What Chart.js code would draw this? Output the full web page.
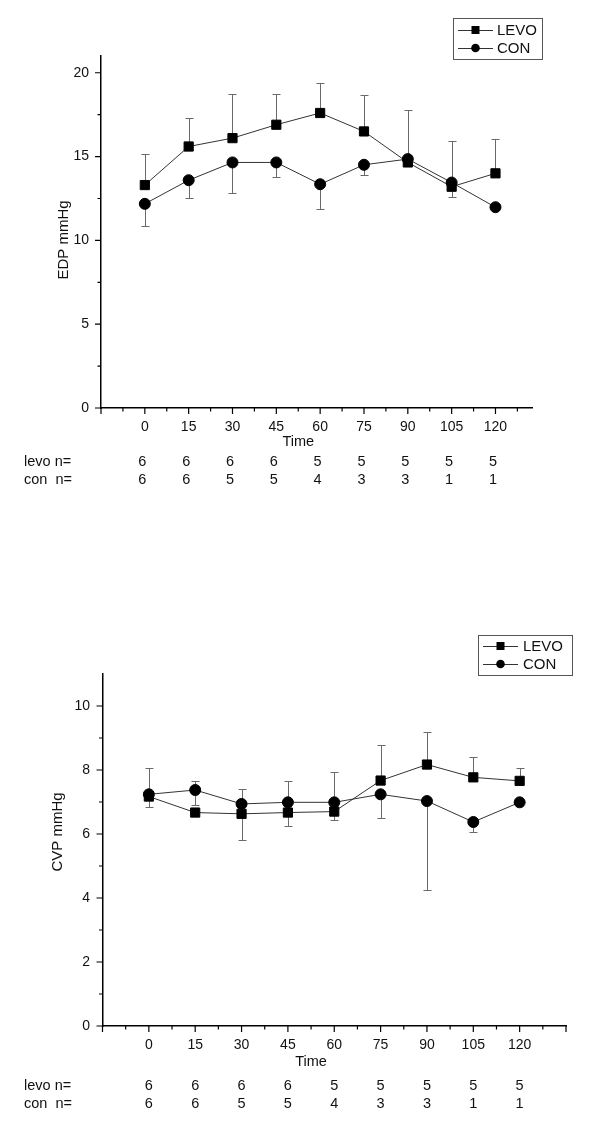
<!DOCTYPE html>
<html>
<head>
<meta charset="utf-8">
<script src="https://cdn.jsdelivr.net/npm/chart.js@4/dist/chart.umd.min.js"></script>
<style>
  body { margin: 0; background: #fff; }
  canvas.panel { position: absolute; left: 0; }
</style>
</head>
<body>
<canvas id="edp-chart" class="panel" style="top:0" width="600" height="573"></canvas>
<canvas id="cvp-chart" class="panel" style="top:573px" width="600" height="574"></canvas>
<script>
// time points (min) and group sizes
const times = [0, 15, 30, 45, 60, 75, 90, 105, 120];
const levoN = [6, 6, 6, 6, 5, 5, 5, 5, 5];
const conN = [6, 6, 5, 5, 4, 3, 3, 1, 1];

// EDP panel: means and visible error bar ends
const edpLevo = [13.3, 15.6, 16.1, 16.9, 17.6, 16.5, 14.65, 13.2, 14.0];
const edpLevoHi = [15.15, 17.33, 18.73, 18.73, 19.38, 18.69, 17.78, 15.9, 16.04];
const edpLevoLo = [null, null, null, null, null, null, null, null, null];
const edpCon = [12.18, 13.59, 14.65, 14.65, 13.35, 14.51, 14.85, 13.45, 11.98];
const edpConHi = [null, null, null, null, null, null, null, null, null];
const edpConLo = [10.83, 12.52, 12.82, 13.81, 11.86, 13.89, null, 12.6, null];

// CVP panel
const cvpLevo = [7.17, 6.67, 6.63, 6.67, 6.7, 7.67, 8.17, 7.77, 7.66];
const cvpLevoHi = [null, null, 7.4, null, null, 8.78, 9.2, 8.4, 8.07];
const cvpLevoLo = [6.83, null, 5.81, 6.25, 6.44, null, null, null, null];
const cvpCon = [7.24, 7.375, 6.94, 6.99, 6.99, 7.24, 7.03, 6.375, 6.99];
const cvpConHi = [8.05, 7.66, null, 7.66, 7.94, null, null, null, null];
const cvpConLo = [null, 6.9, null, null, null, 6.51, 4.25, 6.07, null];

// axis ticks
const xMajor = [-15, 0, 15, 30, 45, 60, 75, 90, 105, 120, 135];
const xMinor = [-7.5, 7.5, 22.5, 37.5, 52.5, 67.5, 82.5, 97.5, 112.5, 127.5];
const edpYMajor = [0, 5, 10, 15, 20];
const edpYMinor = [2.5, 7.5, 12.5, 17.5];
const cvpYMajor = [0, 2, 4, 6, 8, 10];
const cvpYMinor = [1, 3, 5, 7, 9];

const FONT = "'Liberation Sans', Arial, sans-serif";
const INK = '#111';

function drawMarker(ctx, style, x, y, r) {
  ctx.beginPath();
  if (style === 'rect') {
    ctx.rect(x - r, y - r, 2 * r, 2 * r);
  } else {
    ctx.arc(x, y, r, 0, Math.PI * 2);
  }
  ctx.fill();
}

const framePlugin = {
  id: 'frame',
  beforeDatasetsDraw(chart, args, o) {
    const { ctx, scales: { x, y } } = chart;
    ctx.save();
    ctx.strokeStyle = '#6a6a6a';
    ctx.lineWidth = 1;
    chart.data.datasets.forEach((ds) => {
      ds.data.forEach((p, i) => {
        [ds.hi[i], ds.lo[i]].forEach((end) => {
          if (end == null) return;
          const px = Math.round(x.getPixelForValue(p.x)) + 0.5;
          const py = y.getPixelForValue(p.y);
          const pe = Math.round(y.getPixelForValue(end)) + 0.5;
          ctx.beginPath();
          ctx.moveTo(px, py);
          ctx.lineTo(px, pe);
          ctx.moveTo(px - 4, pe);
          ctx.lineTo(px + 4, pe);
          ctx.stroke();
        });
      });
    });
    ctx.restore();
  },
  afterDraw(chart, args, o) {
    const { ctx, chartArea: a, scales: { x, y } } = chart;
    ctx.save();
    ctx.strokeStyle = '#000';
    ctx.lineWidth = 1.2;

    // tick marks
    ctx.beginPath();
    xMajor.filter((v) => v <= x.max).forEach((v) => {
      const px = x.getPixelForValue(v);
      ctx.moveTo(px, a.bottom); ctx.lineTo(px, a.bottom + 6);
    });
    xMinor.filter((v) => v <= x.max).forEach((v) => {
      const px = x.getPixelForValue(v);
      ctx.moveTo(px, a.bottom); ctx.lineTo(px, a.bottom + 3.5);
    });
    o.yMajor.forEach((v) => {
      const py = y.getPixelForValue(v);
      ctx.moveTo(a.left, py); ctx.lineTo(a.left - 6, py);
    });
    o.yMinor.forEach((v) => {
      const py = y.getPixelForValue(v);
      ctx.moveTo(a.left, py); ctx.lineTo(a.left - 3.5, py);
    });
    ctx.stroke();

    ctx.fillStyle = INK;

    // y title
    ctx.save();
    ctx.translate(o.yTitle.x, o.yTitle.y);
    ctx.rotate(-Math.PI / 2);
    ctx.font = `15px ${FONT}`;
    ctx.textAlign = 'center';
    ctx.textBaseline = 'middle';
    ctx.fillText(o.yTitle.text, 0, 0);
    ctx.restore();

    // x title
    ctx.font = `14.5px ${FONT}`;
    ctx.textAlign = 'center';
    ctx.textBaseline = 'alphabetic';
    ctx.fillText('Time', x.getPixelForValue(52.5), o.timeBaseline);

    // group sizes
    ctx.font = `14.5px ${FONT}`;
    ctx.textAlign = 'left';
    ctx.fillText('levo n=', 24, o.nBaselines[0]);
    ctx.fillText('con  n=', 24, o.nBaselines[1]);
    ctx.textAlign = 'center';
    times.forEach((t, i) => {
      const px = x.getPixelForValue(t) + o.nShift;
      ctx.fillText(String(levoN[i]), px, o.nBaselines[0]);
      ctx.fillText(String(conN[i]), px, o.nBaselines[1]);
    });

    // legend
    const L = o.legend;
    ctx.strokeStyle = '#555';
    ctx.lineWidth = 1;
    ctx.strokeRect(L.x + 0.5, L.y + 0.5, L.w, L.h);
    ctx.font = `15px ${FONT}`;
    ctx.textAlign = 'left';
    ctx.textBaseline = 'middle';
    chart.data.datasets.forEach((ds, i) => {
      const ry = L.rows[i];
      ctx.strokeStyle = ds.borderColor;
      ctx.beginPath();
      ctx.moveTo(L.lineFrom, ry + 0.5);
      ctx.lineTo(L.lineTo, ry + 0.5);
      ctx.stroke();
      ctx.fillStyle = '#000';
      drawMarker(ctx, ds.pointStyle, (L.lineFrom + L.lineTo) / 2, ry, ds.pointStyle === 'rect' ? 4 : 4.3);
      ctx.fillStyle = INK;
      ctx.fillText(ds.label, L.textX, ry + 1);
    });
    ctx.restore();
  },
};

function buildChart(id, cfg) {
  const canvas = document.getElementById(id);
  const H = canvas.height;
  const series = (vals) => times.map((t, i) => ({ x: t, y: vals[i] }));
  return new Chart(canvas, {
    type: 'line',
    data: {
      datasets: [
        {
          label: 'LEVO',
          data: series(cfg.levo),
          hi: cfg.levoHi,
          lo: cfg.levoLo,
          pointStyle: 'rect',
          pointRadius: 6.5,
          order: 1,
        },
        {
          label: 'CON',
          data: series(cfg.con),
          hi: cfg.conHi,
          lo: cfg.conLo,
          pointStyle: 'circle',
          pointRadius: 5.5,
          order: 0,
        },
      ].map((ds) => ({
        ...ds,
        borderColor: '#333',
        borderWidth: 1,
        backgroundColor: '#000',
        pointBackgroundColor: '#000',
        pointBorderColor: '#000',
        pointBorderWidth: 1,
        tension: 0,
        fill: false,
        clip: false,
      })),
    },
    options: {
      responsive: false,
      animation: false,
      events: [],
      layout: {
        padding: { left: 0, top: cfg.area.top, right: 600 - cfg.area.right, bottom: 0 },
      },
      scales: {
        x: {
          type: 'linear',
          min: -15,
          max: cfg.xMax,
          afterBuildTicks: (s) => { s.ticks = times.map((v) => ({ value: v })); },
          afterFit: (s) => { s.height = H - cfg.area.bottom; },
          grid: { display: false },
          border: { color: '#000', width: 1.5 },
          ticks: { autoSkip: false, maxRotation: 0, padding: 3, color: INK, font: { family: FONT, size: 14 } },
        },
        y: {
          min: 0,
          max: cfg.yMax,
          afterBuildTicks: (s) => { s.ticks = cfg.yMajor.map((v) => ({ value: v })); },
          afterFit: (s) => { s.width = cfg.area.left; },
          grid: { display: false },
          border: { color: '#000', width: 1.5 },
          ticks: { padding: cfg.yPad, color: INK, font: { family: FONT, size: 14 } },
        },
      },
      plugins: {
        legend: { display: false },
        tooltip: { enabled: false },
        frame: {
          yMajor: cfg.yMajor,
          yMinor: cfg.yMinor,
          yTitle: cfg.yTitle,
          timeBaseline: cfg.timeBaseline,
          nBaselines: cfg.nBaselines,
          nShift: cfg.nShift,
          legend: cfg.legend,
        },
      },
    },
    plugins: [framePlugin],
  });
}

buildChart('edp-chart', {
  levo: edpLevo, levoHi: edpLevoHi, levoLo: edpLevoLo,
  con: edpCon, conHi: edpConHi, conLo: edpConLo,
  area: { left: 101, right: 532, top: 56, bottom: 408 },
  xMax: 132.5,
  yMax: 21,
  yPad: 4,
  yMajor: edpYMajor,
  yMinor: edpYMinor,
  yTitle: { text: 'EDP mmHg', x: 64, y: 240 },
  timeBaseline: 446,
  nBaselines: [466, 483.5],
  nShift: -2.5,
  legend: { x: 453, y: 18, w: 89, h: 41, rows: [30, 48], lineFrom: 458, lineTo: 493, textX: 497 },
});

buildChart('cvp-chart', {
  levo: cvpLevo, levoHi: cvpLevoHi, levoLo: cvpLevoLo,
  con: cvpCon, conHi: cvpConHi, conLo: cvpConLo,
  area: { left: 102.5, right: 566, top: 101, bottom: 453 },
  xMax: 135,
  yMax: 11,
  yPad: 4.5,
  yMajor: cvpYMajor,
  yMinor: cvpYMinor,
  yTitle: { text: 'CVP mmHg', x: 58, y: 259 },
  timeBaseline: 493,
  nBaselines: [517, 535],
  nShift: 0,
  legend: { x: 478, y: 62, w: 94, h: 40, rows: [73, 91], lineFrom: 483, lineTo: 518, textX: 523 },
});
</script>
</body>
</html>
